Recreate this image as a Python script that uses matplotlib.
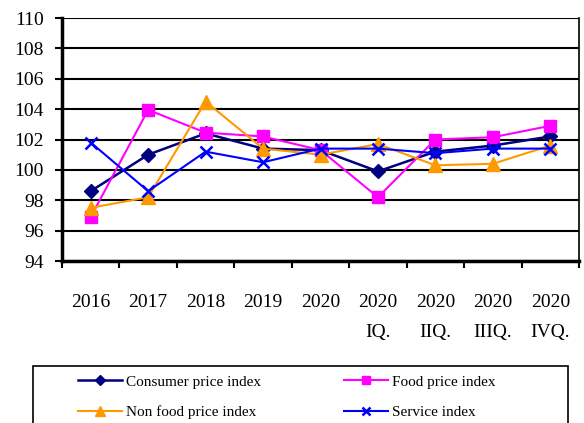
import matplotlib.pyplot as plt
from matplotlib.patches import Rectangle

plt.rcParams['font.family'] = ['Liberation Serif', 'DejaVu Serif']

categories = ["2016", "2017", "2018", "2019", "2020",
              "2020\nIQ.", "2020\nIIQ.", "2020\nIIIQ.", "2020\nIVQ."]
consumer = [98.6, 101.0, 102.4, 101.4, 101.3, 99.9, 101.2, 101.6, 102.2]
food = [96.9, 103.95, 102.45, 102.2, 101.3, 98.2, 102.0, 102.15, 102.9]
non_food = [97.5, 98.2, 104.5, 101.4, 101.0, 101.7, 100.3, 100.4, 101.6]
service = [101.8, 98.6, 101.2, 100.5, 101.4, 101.4, 101.1, 101.4, 101.4]
yticks = list(range(94, 111, 2))

fig = plt.figure(figsize=(5.84, 4.23), dpi=100)
ax = fig.add_axes([62 / 584, 1 - 261 / 423, 517 / 584, 243 / 423])

x = list(range(len(categories)))
l_cpi, = ax.plot(x, consumer, color='#000080', marker='D', markersize=7, lw=1.8,
                 label='Consumer price index')
l_food, = ax.plot(x, food, color='#FF00FF', marker='s', markersize=9, lw=1.5,
                  label='Food price index')
l_non, = ax.plot(x, non_food, color='#FF9900', marker='^', markersize=10, lw=1.5,
                 label='Non food price index')
l_serv, = ax.plot(x, service, color='#0000FF', marker='x', markersize=9, mew=1.8, lw=1.5,
                  label='Service index')

ax.set_xlim(-0.5, len(categories) - 0.5)
ax.set_ylim(94, 110)
ax.set_yticks(yticks)
ax.set_yticklabels([str(v) for v in yticks], fontsize=14)
for v in yticks:
    ax.axhline(v, color='black', lw=1.5, zorder=0)

ax.set_xticks([i + 0.5 for i in range(-1, len(categories))], minor=False)
ax.set_xticklabels([])
ax.set_xticks(x, minor=True)
ax.set_xticklabels(categories, minor=True, fontsize=14, linespacing=2.0)
ax.tick_params(axis='x', which='minor', length=0, pad=24)
ax.tick_params(axis='x', which='major', length=5, width=1.5, direction='out')
ax.tick_params(axis='y', length=5, width=1.5, pad=8)

ax.spines['left'].set_linewidth(2.5)
ax.spines['bottom'].set_linewidth(2.5)
ax.spines['right'].set_linewidth(1.2)
ax.spines['top'].set_visible(False)

# legend frame runs off the bottom of the picture
fig.add_artist(Rectangle((33 / 584, -0.05), 535 / 584, 1 - 366 / 423 + 0.05,
                         transform=fig.transFigure, fill=False,
                         edgecolor='black', lw=1.2))
fig.legend([l_cpi, l_non, l_food, l_serv],
           ['Consumer price index', 'Non food price index',
            'Food price index', 'Service index'],
           loc='upper left', bbox_to_anchor=(78 / 584, 1 - 375 / 423),
           ncol=2, fontsize=11, frameon=False, handlelength=2.9,
           handletextpad=0.25, columnspacing=5.4, borderpad=0,
           borderaxespad=0, labelspacing=1.1, markerscale=0.7)

fig.savefig('out.png', dpi=100)
